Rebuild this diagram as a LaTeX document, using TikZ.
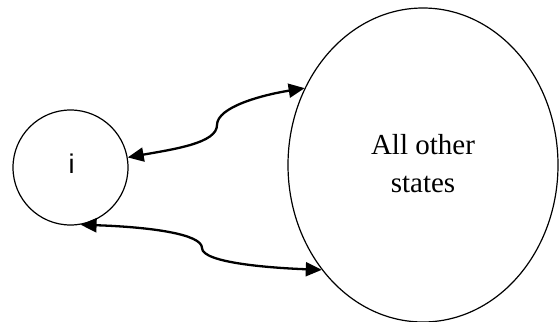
\documentclass[tikz,border=0pt]{standalone}
\usepackage{fontspec}
\setmainfont{Liberation Serif}
\newfontfamily\labelsans{Liberation Sans}
\usetikzlibrary{arrows.meta,shapes.geometric}
\tikzset{
  state/.style={draw, line width=1.2pt, inner sep=0pt},
  link/.style={line width=2.3pt,
    {Triangle[length=16pt,width=14pt]}-{Triangle[length=16pt,width=14pt]}},
}
\begin{document}
\begin{tikzpicture}[x=1pt,y=-1pt]
  \useasboundingbox (0,0) rectangle (559,321);
  % states
  \node[state, circle, minimum size=115pt] (i) at (70.5,167.5) {};
  \node[state, ellipse, minimum width=270pt, minimum height=314pt] (others) at (423,165) {};
  \node[font=\labelsans\fontsize{27}{32}\selectfont, anchor=base] (ilabel) at (71.5,173) {i};
  \node[font=\fontsize{29}{38}\selectfont, anchor=base] (olabel1) at (423,154) {All other};
  \node[font=\fontsize{29}{38}\selectfont, anchor=base] (olabel2) at (423,192) {states};
  % turning points of the two connectors
  \coordinate (k1) at (217,125);
  \coordinate (k2) at (202,248);
  % transitions
  \draw[link] (i.10) .. controls (175,149) and (217,143) .. (k1)
                     .. controls (217,107) and (262,95) .. (others.147);
  \draw[link] (i.-80) .. controls (150,227) and (202,234) .. (k2)
                      .. controls (202,263) and (272,268) .. (others.226);
\end{tikzpicture}
\end{document}
